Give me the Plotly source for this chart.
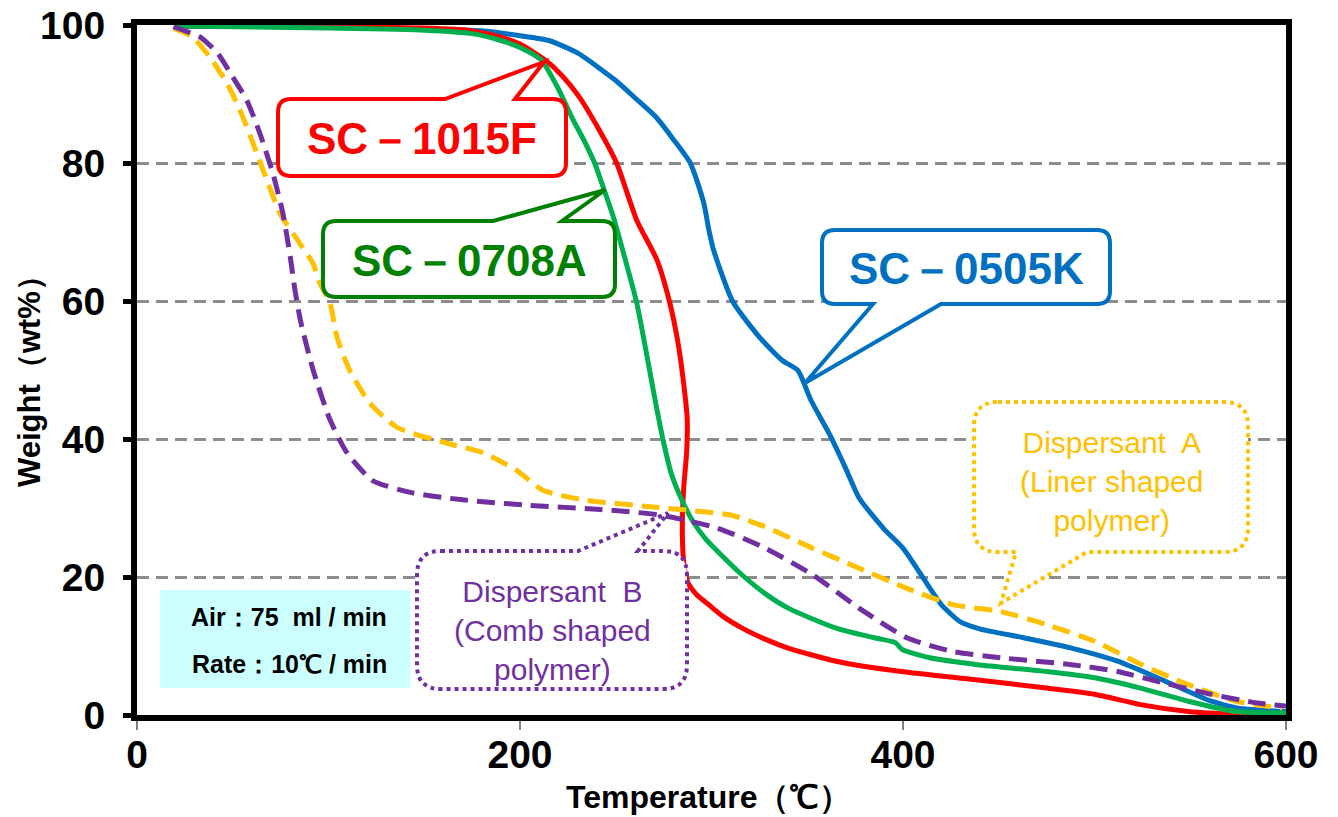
import plotly.graph_objects as go

# ---------------- data ----------------
sc0505k_t = [20, 100, 150, 180, 200, 215, 230, 250, 260, 271, 280, 289, 296, 298.5, 301, 311, 325, 337, 345,
             352, 362, 370, 377, 390, 400, 414, 420, 430, 440, 463, 488, 512, 537, 561, 575, 600]
sc0505k_w = [99.9, 99.8, 99.5, 99.2, 98.5, 97.8, 96, 92, 89.5, 86.7, 83.5, 80, 74.2, 70.5, 67.5, 60, 54.8, 51.4, 50,
             45.6, 40.5, 35.8, 31.5, 27, 24.2, 18.4, 16, 13.5, 12.5, 11.2, 9.7, 7.8, 4.9, 2.0, 1.0, 0.5]

sc1015f_t = [20, 100, 150, 175, 190, 200, 213, 222, 231, 241, 250.5, 261, 271.5, 278, 282.5, 285.5, 287.3, 287,
             285.5, 284.8, 285, 286, 288, 292, 298.5, 306, 316, 328, 340, 365, 399, 438, 475, 500, 524, 549, 574, 600]
sc1015f_w = [99.9, 99.8, 99.6, 99.2, 98.3, 97.3, 95, 92.7, 89.6, 85, 80, 71.7, 66, 60, 54, 48, 43, 38,
             33, 28.3, 24, 21, 19, 17.5, 16, 14.3, 12.6, 11, 9.7, 7.8, 6.3, 5.1, 3.9, 3.0, 1.5, 0.5, 0.1, 0.0]

sc0708a_t = [20, 100, 150, 175, 190, 200, 211, 220, 227, 234, 239, 243.5, 249, 254, 261, 266, 271, 275, 279, 284,
             290, 297, 304, 316, 328, 340, 365, 385, 396, 399.5, 414, 439, 475, 500, 524, 549, 574, 600]
sc0708a_w = [99.9, 99.6, 99.3, 98.8, 97.8, 96.8, 95, 90.8, 86.7, 83, 80, 76.5, 72, 67, 59.7, 52.5, 45, 39.5, 35, 31.5,
             28.2, 25.5, 23.5, 20.3, 17.6, 15.5, 12.6, 11.2, 10.5, 9.5, 8.3, 7.3, 6.3, 5.4, 3.9, 2.0, 0.5, 0.3]

disp_a_t = [19, 29, 38, 47, 53.8, 60.6, 67.9, 74.7, 85, 91.9, 95.5, 100.8, 104.4, 111, 121.7, 135.8, 162, 181, 198,
            212, 233, 268, 291, 310, 328, 352.6, 377, 401.7, 426, 451, 475, 500, 524.5, 549, 574, 598]
disp_a_w = [99.6, 98.3, 95.4, 91.6, 87.7, 82.9, 77.5, 72.7, 68.4, 65.5, 62.6, 59.7, 54.8, 50, 45.2, 41.7, 39.4, 38,
            35.5, 32.6, 31.2, 30.2, 29.6, 29, 27.3, 24.2, 21.3, 18.4, 16, 15, 13.1, 10.7, 7.3, 4.4, 2.0, 1.0]

disp_b_t = [19, 27, 33, 42, 50, 57.4, 64.2, 71, 76.2, 80, 82.5, 85.5, 92, 100.8, 109.7, 123, 144, 170, 205, 242,
            273, 303, 328, 353, 377, 402, 426, 451, 488, 512, 537, 561, 586, 600]
disp_b_w = [99.8, 99, 98.3, 96, 92.5, 89.1, 84.3, 78.5, 72.7, 66.5, 61.6, 57, 50, 42.8, 38, 34, 32.2, 31.2, 30.4, 29.8,
            29, 27.1, 24.2, 20.3, 15.5, 11.2, 9.2, 8.3, 7.3, 6.3, 4.6, 3.0, 1.7, 1.3]

x_ticks = [0, 200, 400, 600]
y_ticks = [0, 20, 40, 60, 80, 100]

# ---------------- geometry helpers (reference pixel layout) ----------------
X0_PX, X1_PX = 137, 1286
Y0_PX, Y1_PX = 715, 25
Y_TOP = 100.05


def dx(px):
    return (px - X0_PX) * 600.0 / (X1_PX - X0_PX)


def dy(py):
    return (Y0_PX - py) * Y_TOP / (Y0_PX - Y1_PX)


def pxp(px):
    return (px - X0_PX) / (X1_PX - X0_PX)


def pyp(py):
    return (Y0_PX - py) / (Y0_PX - Y1_PX)


def P(x, y):
    return f"{dx(x):.4f},{dy(y):.4f}"


def callout(left, top, right, bottom, r, tail=None):
    s = f"M{P(left + r, top)}"
    if tail and tail[0] == 'top':
        s += f" L{P(tail[1], top)} L{P(*tail[2])} L{P(tail[3], top)}"
    s += f" L{P(right - r, top)} Q{P(right, top)} {P(right, top + r)}"
    s += f" L{P(right, bottom - r)} Q{P(right, bottom)} {P(right - r, bottom)}"
    if tail and tail[0] == 'bottom':
        s += f" L{P(tail[1], bottom)} L{P(*tail[2])} L{P(tail[3], bottom)}"
    s += f" L{P(left + r, bottom)} Q{P(left, bottom)} {P(left, bottom - r)}"
    s += f" L{P(left, top + r)} Q{P(left, top)} {P(left + r, top)} Z"
    return s


fig = go.Figure()

series = [
    (sc0505k_t, sc0505k_w, "#0070C0", "solid", "SC-0505K"),
    (sc1015f_t, sc1015f_w, "#FF0000", "solid", "SC-1015F"),
    (sc0708a_t, sc0708a_w, "#00B050", "solid", "SC-0708A"),
    (disp_a_t, disp_a_w, "#FFC000", "18px,9px", "Dispersant A"),
    (disp_b_t, disp_b_w, "#7030A0", "18px,9px", "Dispersant B"),
]
for t, w, col, dash, name in series:
    fig.add_trace(go.Scatter(x=t, y=w, mode="lines", name=name,
                             line=dict(color=col, width=5, dash=dash, shape="spline", smoothing=0.6)))

shapes = []
# Air box
shapes.append(dict(type="rect", xref="x", yref="y", x0=dx(160), x1=dx(410), y0=dy(590), y1=dy(688),
                   fillcolor="#CCFFFF", line=dict(width=0), layer="above"))
# SC callouts
shapes.append(dict(type="path", xref="x", yref="y", layer="above", fillcolor="white",
                   line=dict(color="#FF0000", width=4),
                   path=callout(278, 99, 566, 176, 13, ('top', 445, (544, 62), 515))))
shapes.append(dict(type="path", xref="x", yref="y", layer="above", fillcolor="white",
                   line=dict(color="#008000", width=4),
                   path=callout(323, 221, 615, 297, 13, ('top', 493, (605, 190), 562))))
shapes.append(dict(type="path", xref="x", yref="y", layer="above", fillcolor="white",
                   line=dict(color="#0070C0", width=4),
                   path=callout(822, 230, 1110, 304, 13, ('bottom', 941, (805, 383), 873))))
# Dispersant callouts (dotted)
shapes.append(dict(type="path", xref="x", yref="y", layer="above", fillcolor="white",
                   line=dict(color="#FFC000", width=4, dash="dot"),
                   path=callout(974, 402, 1248, 552, 24, ('bottom', 1087, (1001, 603), 1016))))
shapes.append(dict(type="path", xref="x", yref="y", layer="above", fillcolor="white",
                   line=dict(color="#7030A0", width=4, dash="dot"),
                   path=callout(417, 551, 687, 689, 24, ('top', 578, (668, 513), 638))))

FONT = "Liberation Sans, Arial, sans-serif"

annotations = [
    dict(x=dx(422), y=dy(138), text="SC－1015F", font=dict(family=FONT, size=44, color="#FF0000", weight="bold")),
    dict(x=dx(469), y=dy(260), text="SC－0708A", font=dict(family=FONT, size=44, color="#008000", weight="bold")),
    dict(x=dx(966), y=dy(268), text="SC－0505K", font=dict(family=FONT, size=44, color="#0070C0", weight="bold")),
    dict(x=dx(1111), y=dy(481), text="Dispersant  A<br>(Liner shaped<br>polymer)",
         font=dict(family=FONT, size=30, color="#FFC000")),
    dict(x=dx(552), y=dy(630), text="Dispersant  B<br>(Comb shaped<br>polymer)",
         font=dict(family=FONT, size=30, color="#7030A0")),
    dict(x=dx(289), y=dy(617), text="Air：75  ml / min",
         font=dict(family=FONT, size=25, color="black", weight="bold")),
    dict(x=dx(289), y=dy(664), text="Rate：10℃ / min",
         font=dict(family=FONT, size=25, color="black", weight="bold")),
]
for a in annotations:
    a.update(xref="x", yref="y", showarrow=False, xanchor="center", yanchor="middle")

# axis titles (paper coordinates so they are never hidden)
annotations += [
    dict(xref="paper", yref="paper", x=pxp(708), y=pyp(797), text="Temperature（℃）", showarrow=False,
         xanchor="center", yanchor="middle",
         font=dict(family=FONT, size=32, color="black", weight="bold")),
    dict(xref="paper", yref="paper", x=pxp(29), y=pyp(374), text="Weight（wt%）", textangle=-90, showarrow=False,
         xanchor="center", yanchor="middle",
         font=dict(family=FONT, size=31, color="black", weight="bold")),
]

fig.update_layout(
    width=1338, height=817,
    margin=dict(l=137, r=52, t=25, b=102, autoexpand=False),
    paper_bgcolor="white", plot_bgcolor="white",
    showlegend=False,
    shapes=shapes,
    annotations=annotations,
)

fig.update_xaxes(
    range=[0, 600], tickvals=x_ticks, ticktext=[str(v) for v in x_ticks],
    showgrid=False, zeroline=False, automargin=False,
    showline=True, linecolor="black", linewidth=6, mirror=True,
    ticks="outside", ticklen=9, tickwidth=2, tickcolor="#808080",
    ticklabelstandoff=-9, ticklabeloverflow="allow",
    tickfont=dict(family=FONT, size=39, color="black", weight="bold"),
)
fig.update_yaxes(
    range=[0, Y_TOP], tickvals=y_ticks, ticktext=[str(v) for v in y_ticks],
    showgrid=True, gridcolor="#8C8C8C", gridwidth=3, griddash="12px,7px",
    zeroline=False, automargin=False,
    showline=True, linecolor="black", linewidth=6, mirror=True,
    ticks="outside", ticklen=8, tickwidth=5, tickcolor="black",
    ticklabelstandoff=10, ticklabeloverflow="allow",
    tickfont=dict(family=FONT, size=39, color="black", weight="bold"),
)

fig.write_html("out.html", config={"displayModeBar": False},
               post_script="document.body.style.margin='0px';document.body.style.overflow='hidden';")
